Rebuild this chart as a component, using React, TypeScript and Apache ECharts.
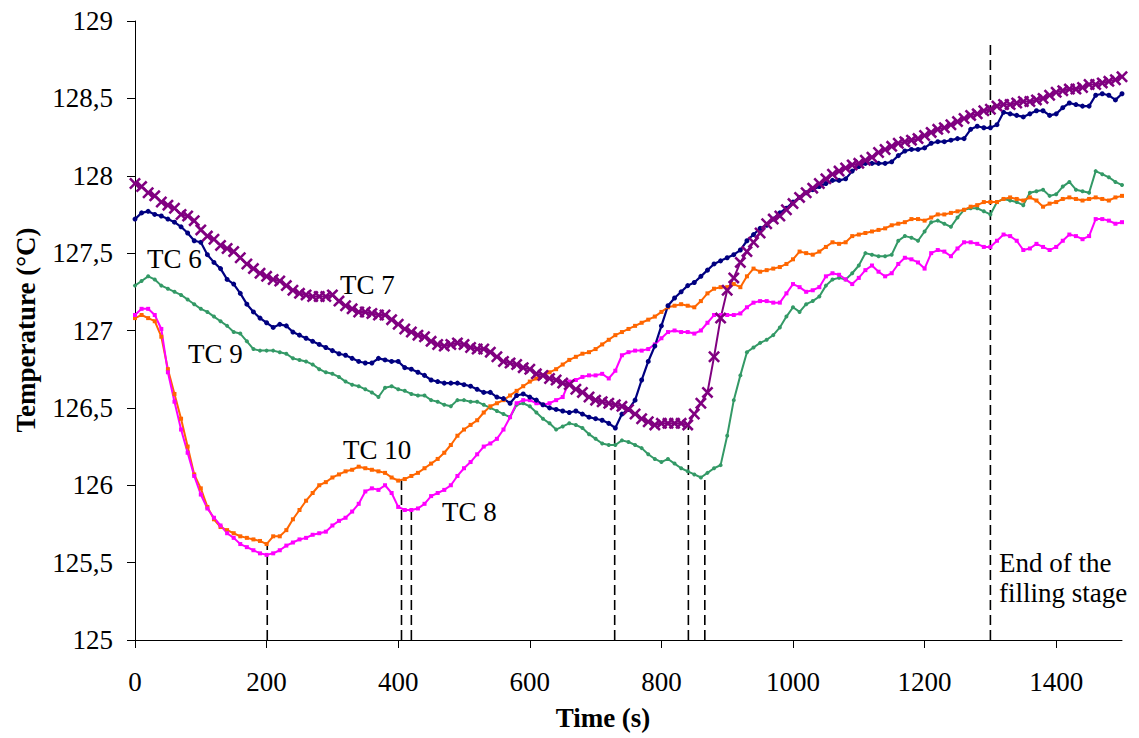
import { useEffect, useRef } from "react";
import * as echarts from "echarts";

// Sampling times (s)
const TIME_S = [
  0, 10, 20, 30, 40, 50, 60, 70, 80, 90,
  100, 110, 120, 130, 140, 150, 160, 170, 180, 190,
  200, 210, 220, 230, 240, 250, 260, 270, 280, 290,
  300, 310, 320, 330, 340, 350, 360, 370, 380, 390,
  400, 410, 420, 430, 440, 450, 460, 470, 480, 490,
  500, 510, 520, 530, 540, 550, 560, 570, 580, 590,
  600, 610, 620, 630, 640, 650, 660, 670, 680, 690,
  700, 710, 720, 730, 740, 750, 760, 770, 780, 790,
  800, 810, 820, 830, 840, 850, 860, 870, 880, 890,
  900, 910, 920, 930, 940, 950, 960, 970, 980, 990,
  1000, 1010, 1020, 1030, 1040, 1050, 1060, 1070, 1080, 1090,
  1100, 1110, 1120, 1130, 1140, 1150, 1160, 1170, 1180, 1190,
  1200, 1210, 1220, 1230, 1240, 1250, 1260, 1270, 1280, 1290,
  1300, 1310, 1320, 1330, 1340, 1350, 1360, 1370, 1380, 1390,
  1400, 1410, 1420, 1430, 1440, 1450, 1460, 1470, 1480, 1490,
  1500,
];

const TC6 = [
  127.72, 127.76, 127.77, 127.75, 127.74, 127.72, 127.70, 127.67, 127.63, 127.58,
  127.57, 127.49, 127.44, 127.40, 127.33, 127.30, 127.24, 127.17, 127.12, 127.08,
  127.05, 127.02, 127.04, 127.03, 126.99, 126.97, 126.95, 126.93, 126.91, 126.89,
  126.87, 126.85, 126.84, 126.82, 126.80, 126.79, 126.79, 126.82, 126.81, 126.80,
  126.80, 126.76, 126.75, 126.73, 126.71, 126.68, 126.67, 126.66, 126.66, 126.66,
  126.65, 126.64, 126.62, 126.60, 126.60, 126.57, 126.56, 126.53, 126.58, 126.59,
  126.57, 126.55, 126.52, 126.50, 126.49, 126.48, 126.47, 126.48, 126.46, 126.44,
  126.43, 126.42, 126.40, 126.37, 126.46, 126.49, 126.55, 126.68, 126.80, 126.90,
  127.03, 127.16, 127.21, 127.25, 127.29, 127.31, 127.35, 127.39, 127.43, 127.45,
  127.47, 127.49, 127.52, 127.58, 127.62, 127.66, 127.68, 127.72, 127.76, 127.79,
  127.83, 127.86, 127.89, 127.91, 127.93, 127.95, 127.97, 127.97, 127.98, 128.03,
  128.06, 128.08, 128.08, 128.08, 128.08, 128.09, 128.13, 128.16, 128.17, 128.17,
  128.18, 128.21, 128.22, 128.22, 128.23, 128.24, 128.24, 128.30, 128.32, 128.31,
  128.31, 128.33, 128.41, 128.40, 128.39, 128.38, 128.40, 128.42, 128.42, 128.39,
  128.40, 128.44, 128.47, 128.46, 128.45, 128.45, 128.52, 128.53, 128.52, 128.49,
  128.53,
];

const TC7 = [
  127.95, 127.93, 127.89, 127.87, 127.83, 127.81, 127.79, 127.75, 127.74, 127.71,
  127.65, 127.61, 127.59, 127.55, 127.53, 127.51, 127.47, 127.43, 127.40, 127.37,
  127.35, 127.33, 127.32, 127.29, 127.26, 127.24, 127.23, 127.22, 127.22, 127.22,
  127.23, 127.19, 127.16, 127.14, 127.12, 127.12, 127.11, 127.10, 127.10, 127.07,
  127.04, 127.01, 126.99, 126.97, 126.96, 126.93, 126.91, 126.90, 126.91, 126.92,
  126.91, 126.89, 126.88, 126.88, 126.86, 126.83, 126.80, 126.79, 126.78, 126.76,
  126.75, 126.72, 126.71, 126.69, 126.68, 126.66, 126.65, 126.62, 126.60, 126.57,
  126.55, 126.54, 126.53, 126.52, 126.51, 126.49, 126.46, 126.43, 126.41, 126.39,
  126.40, 126.40, 126.40, 126.40, 126.39, 126.46, 126.53, 126.60, 126.83, 127.08,
  127.26, 127.34, 127.44, 127.51, 127.57, 127.63, 127.69, 127.72, 127.74, 127.78,
  127.82, 127.86, 127.89, 127.92, 127.95, 127.98, 128.01, 128.03, 128.05, 128.07,
  128.08, 128.10, 128.12, 128.15, 128.17, 128.19, 128.21, 128.22, 128.23, 128.24,
  128.26, 128.28, 128.30, 128.31, 128.33, 128.35, 128.37, 128.39, 128.40, 128.42,
  128.43, 128.45, 128.46, 128.46, 128.47, 128.48, 128.48, 128.49, 128.50, 128.52,
  128.54, 128.55, 128.56, 128.56, 128.57, 128.59, 128.59, 128.60, 128.61, 128.62,
  128.64,
];

const TC8 = [
  127.10, 127.14, 127.14, 127.10, 127.01, 126.73, 126.54, 126.36, 126.21, 126.06,
  125.94, 125.85, 125.79, 125.74, 125.69, 125.66, 125.62, 125.60, 125.58, 125.56,
  125.55, 125.56, 125.58, 125.61, 125.63, 125.65, 125.66, 125.68, 125.69, 125.70,
  125.74, 125.77, 125.79, 125.83, 125.88, 125.96, 125.98, 125.97, 126.00, 125.95,
  125.86, 125.84, 125.84, 125.85, 125.88, 125.93, 125.95, 125.97, 126.00, 126.06,
  126.11, 126.15, 126.20, 126.25, 126.27, 126.30, 126.36, 126.44, 126.53, 126.55,
  126.55, 126.53, 126.52, 126.53, 126.55, 126.57, 126.67, 126.68, 126.70, 126.71,
  126.71, 126.72, 126.69, 126.74, 126.84, 126.86, 126.87, 126.87, 126.88, 126.91,
  126.95, 126.99, 127.00, 126.99, 126.99, 126.98, 127.00, 127.05, 127.10, 127.10,
  127.10, 127.10, 127.11, 127.15, 127.18, 127.19, 127.19, 127.18, 127.18, 127.24,
  127.30, 127.28, 127.25, 127.26, 127.28, 127.35, 127.37, 127.36, 127.33, 127.30,
  127.34, 127.39, 127.42, 127.38, 127.35, 127.37, 127.43, 127.47, 127.46, 127.44,
  127.40, 127.50, 127.52, 127.51, 127.48, 127.53, 127.57, 127.57, 127.56, 127.54,
  127.54, 127.58, 127.62, 127.61, 127.58, 127.52, 127.53, 127.56, 127.54, 127.52,
  127.54, 127.58, 127.62, 127.61, 127.59, 127.61, 127.72, 127.72, 127.71, 127.69,
  127.70,
];

const TC9 = [
  127.29, 127.32, 127.35, 127.33, 127.29, 127.27, 127.25, 127.23, 127.20, 127.17,
  127.14, 127.12, 127.09, 127.06, 127.03, 126.99, 126.98, 126.93, 126.88, 126.87,
  126.87, 126.87, 126.86, 126.85, 126.82, 126.81, 126.80, 126.78, 126.75, 126.73,
  126.72, 126.70, 126.67, 126.65, 126.64, 126.62, 126.60, 126.57, 126.63, 126.64,
  126.62, 126.61, 126.59, 126.58, 126.58, 126.55, 126.54, 126.52, 126.51, 126.55,
  126.55, 126.54, 126.54, 126.52, 126.50, 126.48, 126.46, 126.44, 126.52, 126.53,
  126.51, 126.47, 126.43, 126.40, 126.36, 126.38, 126.40, 126.39, 126.37, 126.33,
  126.30, 126.27, 126.26, 126.26, 126.29, 126.28, 126.26, 126.24, 126.20, 126.17,
  126.15, 126.17, 126.14, 126.11, 126.09, 126.07, 126.05, 126.08, 126.11, 126.13,
  126.32, 126.55, 126.71, 126.86, 126.89, 126.92, 126.94, 126.97, 127.02, 127.09,
  127.15, 127.12, 127.17, 127.19, 127.22, 127.29, 127.33, 127.34, 127.33, 127.37,
  127.42, 127.50, 127.49, 127.48, 127.48, 127.49, 127.58, 127.61, 127.60, 127.58,
  127.64, 127.70, 127.71, 127.69, 127.67, 127.73, 127.78, 127.79, 127.79, 127.77,
  127.75, 127.83, 127.85, 127.84, 127.83, 127.81, 127.89, 127.90, 127.91, 127.87,
  127.88, 127.93, 127.96, 127.91, 127.90, 127.89, 128.03, 128.01, 127.99, 127.96,
  127.94,
];

const TC10 = [
  127.08, 127.10, 127.08, 127.06, 126.96, 126.75, 126.59, 126.43, 126.25, 126.07,
  125.98, 125.86, 125.78, 125.73, 125.71, 125.69, 125.67, 125.66, 125.65, 125.64,
  125.62, 125.67, 125.67, 125.71, 125.78, 125.84, 125.90, 125.95, 126.00, 126.02,
  126.05, 126.07, 126.09, 126.10, 126.12, 126.11, 126.10, 126.09, 126.08, 126.05,
  126.03, 126.04, 126.06, 126.08, 126.11, 126.14, 126.17, 126.21, 126.26, 126.32,
  126.36, 126.39, 126.42, 126.47, 126.51, 126.53, 126.55, 126.58, 126.61, 126.64,
  126.67, 126.69, 126.71, 126.73, 126.75, 126.78, 126.81, 126.83, 126.85, 126.86,
  126.88, 126.91, 126.94, 126.97, 126.99, 127.01, 127.03, 127.05, 127.07, 127.09,
  127.12, 127.15, 127.16, 127.17, 127.16, 127.15, 127.19, 127.24, 127.27, 127.28,
  127.28, 127.30, 127.28, 127.35, 127.40, 127.38, 127.39, 127.40, 127.41, 127.43,
  127.46, 127.51, 127.50, 127.49, 127.51, 127.54, 127.57, 127.56, 127.57, 127.61,
  127.62, 127.63, 127.64, 127.65, 127.66, 127.68, 127.69, 127.70, 127.72, 127.72,
  127.71, 127.73, 127.75, 127.75, 127.76, 127.77, 127.78, 127.80, 127.81, 127.83,
  127.83, 127.83, 127.85, 127.86, 127.85, 127.84, 127.86, 127.84, 127.80, 127.82,
  127.83, 127.85, 127.86, 127.85, 127.84, 127.85, 127.86, 127.85, 127.84, 127.86,
  127.87,
];

// Vertical dashed reference lines: time and the temperature they reach
const MARK_TIMES = [201, 405, 420, 729, 841, 866, 1300];
const MARK_TOPS = [125.63, 126.03, 125.84, 126.37, 126.39, 126.06, 128.86];

const X_TICKS = [0, 200, 400, 600, 800, 1000, 1200, 1400];
const Y_MIN = 125;
const Y_MAX = 129;
const Y_STEP = 0.5;
const X_MIN = 0;
const X_MAX = 1500;

const FONT = "'Liberation Serif', 'Times New Roman', serif";

export default function App() {
  const ref = useRef<HTMLDivElement>(null);

  useEffect(() => {
    if (!ref.current) return;
    const chart = echarts.init(ref.current, null, { renderer: "svg" });

    const pair = (vals: number[]) => TIME_S.map((t, i) => [t, vals[i]]);
    const cross =
      "path://M0,1.5L1.5,0L5,3.5L8.5,0L10,1.5L6.5,5L10,8.5L8.5,10L5,6.5L1.5,10L0,8.5L3.5,5Z";

    const curve = (
      name: string,
      vals: number[],
      color: string,
      symbol: string,
      size: number,
      width: number
    ) => ({
      type: "line",
      name,
      data: pair(vals),
      symbol,
      symbolSize: size,
      showSymbol: true,
      showAllSymbol: true,
      lineStyle: { color, width },
      itemStyle: { color, borderWidth: 0 },
      emphasis: { disabled: true },
      silent: true,
      z: 3,
    });

    const dashSeries = MARK_TIMES.map((t, i) => ({
      type: "line",
      data: [
        [t, Y_MIN],
        [t, MARK_TOPS[i]],
      ],
      symbol: "none",
      lineStyle: { color: "#000", width: 1.6, type: [10, 5] },
      silent: true,
      z: 2,
    }));

    const label = (text: string, x: number, y: number) => ({
      type: "text",
      x,
      y,
      style: {
        text,
        font: `27px ${FONT}`,
        fill: "#000",
        align: "left",
        verticalAlign: "middle",
      },
    });

    chart.setOption({
      animation: false,
      backgroundColor: "#fff",
      textStyle: { fontFamily: FONT },
      grid: { left: 135, right: 17, top: 21, bottom: 98 },
      xAxis: {
        type: "value",
        min: X_MIN,
        max: X_MAX,
        interval: 200,
        splitLine: { show: false },
        axisLine: { show: true, lineStyle: { color: "#000", width: 1 } },
        axisTick: {
          show: true,
          inside: false,
          length: 8,
          customValues: X_TICKS,
          lineStyle: { color: "#000" },
        },
        axisLabel: {
          customValues: X_TICKS,
          margin: 28,
          color: "#000",
          fontSize: 27,
          fontFamily: FONT,
          formatter: (v: number) => String(v),
        },
      },
      yAxis: {
        type: "value",
        min: Y_MIN,
        max: Y_MAX,
        interval: Y_STEP,
        splitLine: { show: false },
        axisLine: { show: true, lineStyle: { color: "#000", width: 1 } },
        axisTick: { show: true, inside: false, length: 8, lineStyle: { color: "#000" } },
        axisLabel: {
          margin: 22,
          color: "#000",
          fontSize: 27,
          fontFamily: FONT,
          formatter: (v: number) => String(v).replace(".", ","),
        },
      },
      series: [
        ...dashSeries,
        curve("TC 9", TC9, "#339966", "circle", 4, 2),
        curve("TC 10", TC10, "#FF6600", "rect", 4, 2),
        curve("TC 8", TC8, "#FF00FF", "rect", 4, 2),
        curve("TC 6", TC6, "#000080", "circle", 5, 2.2),
        curve("TC 7", TC7, "#800080", cross, 12, 2),
      ],
      graphic: [
        label("TC 6", 147, 259),
        label("TC 7", 340, 285),
        label("TC 9", 188, 354),
        label("TC 10", 343, 450),
        label("TC 8", 442, 512),
        label("End of the", 999, 563),
        label("filling stage", 999, 593),
        {
          type: "text",
          x: 603,
          y: 718,
          style: {
            text: "Time (s)",
            font: `bold 27px ${FONT}`,
            fill: "#000",
            align: "center",
            verticalAlign: "middle",
          },
        },
        {
          type: "text",
          x: 26,
          y: 330,
          rotation: Math.PI / 2,
          style: {
            text: "Temperature (°C)",
            font: `bold 27px ${FONT}`,
            fill: "#000",
            align: "center",
            verticalAlign: "middle",
          },
        },
      ],
    });

    return () => chart.dispose();
  }, []);

  return (
    <div
      ref={ref}
      style={{
        position: "fixed",
        left: 0,
        top: 0,
        width: 1139,
        height: 738,
        background: "#fff",
      }}
    />
  );
}
